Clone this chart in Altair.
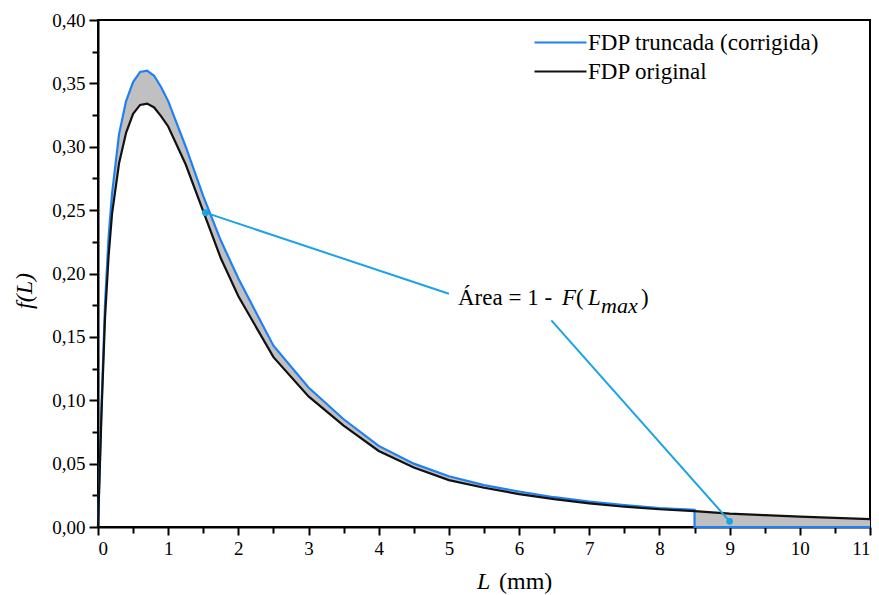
import altair as alt
import pandas as pd

# ---- data ----
x_vals = [0, 0.05, 0.1, 0.15, 0.2, 0.3, 0.4, 0.5, 0.6, 0.7, 0.8, 0.9, 1.0, 1.25, 1.5, 1.75,
          2.0, 2.5, 3.0, 3.5, 4.0, 4.5, 5.0, 5.5, 6.0, 6.5, 7.0, 7.5, 8.0, 8.5,
          9.0, 9.5, 10.0, 10.5, 11.0]
original = [0, 0.090, 0.165, 0.213, 0.247, 0.287, 0.311, 0.326, 0.333, 0.334, 0.331, 0.324,
            0.316, 0.286, 0.249, 0.212, 0.182, 0.134, 0.103, 0.080, 0.060, 0.047, 0.037,
            0.031, 0.026, 0.022, 0.0187, 0.016, 0.014, 0.0126,
            0.0105, 0.0093, 0.0082, 0.0072, 0.0062]
truncated = [0, 0.095, 0.176, 0.228, 0.263, 0.310, 0.336, 0.351, 0.359, 0.360, 0.356, 0.347,
             0.336, 0.300, 0.261, 0.226, 0.196, 0.143, 0.110, 0.085, 0.064, 0.050, 0.040,
             0.033, 0.028, 0.0235, 0.020, 0.0172, 0.015, 0.0135]
l_max = 8.5
tail_x = [8.5, 11.0]
tail_y = [0, 0]

name_trunc = "FDP truncada (corrigida)"
name_orig = "FDP original"

# annotation (data units)
ann_x = [1.53, 9.0]
ann_y = [0.248, 0.0045]
ann_x2 = [5.0, 6.46]
ann_y2 = [0.184, 0.163]

x_ticks = list(range(0, 12))
x_minor = [i + 0.5 for i in range(0, 11)]
y_ticks = [round(0.05 * i, 2) for i in range(0, 9)]
y_minor = [round(0.025 + 0.05 * i, 3) for i in range(0, 8)]

# ---- tables ----
n_t = len(truncated)
rows = []
for i, (xv, yv) in enumerate(zip(x_vals[:n_t] + tail_x, truncated + tail_y)):
    rows.append({"series": name_trunc, "x": xv, "y": yv, "o": i})
for i, (xv, yv) in enumerate(zip(x_vals, original)):
    rows.append({"series": name_orig, "x": xv, "y": yv, "o": i})
lines_df = pd.DataFrame(rows)

band_df = pd.DataFrame({"x": x_vals[:n_t], "top": truncated, "bot": original[:n_t]})
tail_df = pd.DataFrame({"x": [v for v in x_vals if v >= l_max],
                        "y": [o for v, o in zip(x_vals, original) if v >= l_max]})
ann_df = pd.DataFrame({"x": ann_x, "y": ann_y, "x2": ann_x2, "y2": ann_y2})

FONT = "'Liberation Serif', 'Times New Roman', 'DejaVu Serif', serif"
xs = alt.Scale(domain=[0, 11], nice=False)
ys = alt.Scale(domain=[0, 0.4], nice=False)
lab = "replace(format(datum.value, '.2f'), '.', ',')"

x_axis = alt.Axis(values=x_ticks, title=None, tickSize=8, labelPadding=4, format="d",
                  orient="bottom")
y_axis = alt.Axis(values=y_ticks, title=None, tickSize=9, labelPadding=4, labelExpr=lab,
                  orient="left")

band = alt.Chart(band_df).mark_area(color="#c0c0c0", opacity=1).encode(
    x=alt.X("x:Q", scale=xs, axis=x_axis),
    y=alt.Y("top:Q", scale=ys, axis=y_axis),
    y2="bot:Q",
)
tail = alt.Chart(tail_df).mark_area(color="#c0c0c0", opacity=1).encode(
    x=alt.X("x:Q", scale=xs),
    y=alt.Y("y:Q", scale=ys),
    y2=alt.datum(0),
)

lines = alt.Chart(lines_df).mark_line(strokeWidth=2.2).encode(
    x=alt.X("x:Q", scale=xs),
    y=alt.Y("y:Q", scale=ys),
    order="o:Q",
    color=alt.Color("series:N",
                    scale=alt.Scale(domain=[name_trunc, name_orig], range=["#1f80f5", "#111111"]),
                    sort=[name_trunc, name_orig],
                    legend=alt.Legend(title=None, orient="none", legendX=451, legendY=11,
                                      symbolType="M-5.2,0H5.2", symbolSize=100,
                                      symbolStrokeWidth=2.2, labelFont=FONT, labelFontSize=23,
                                      labelColor="black", labelOffset=16, rowPadding=5,
                                      labelLimit=500, padding=0)),
)

ann_lines = alt.Chart(ann_df).mark_rule(color="#1ba3e3", strokeWidth=2).encode(
    x=alt.X("x:Q", scale=xs), y=alt.Y("y:Q", scale=ys), x2="x2:Q", y2="y2:Q")
ann_dots = alt.Chart(ann_df).mark_circle(color="#1ba3e3", size=45, opacity=1).encode(
    x=alt.X("x:Q", scale=xs), y=alt.Y("y:Q", scale=ys))

main = alt.layer(band, tail, lines, ann_lines, ann_dots)

# minor ticks via extra axes
minor_x = alt.Chart(pd.DataFrame({"x": [0.0]})).mark_point(opacity=0).encode(
    x=alt.X("x:Q", scale=xs, axis=alt.Axis(values=x_minor, labels=False, domain=False,
                                           tickSize=6, title=None, orient="bottom")),
)
minor_y = alt.Chart(pd.DataFrame({"y": [0.0]})).mark_point(opacity=0).encode(
    y=alt.Y("y:Q", scale=ys, axis=alt.Axis(values=y_minor, labels=False, domain=False,
                                           tickSize=6, title=None, orient="left")),
)

# text pieces (pixel positions relative to plot origin)
txt_rows = [
    {"t": "Área = 1 -", "px": 360, "py": 285, "st": "normal", "fs": 23},
    {"t": "F", "px": 464, "py": 285, "st": "italic", "fs": 23},
    {"t": "(", "px": 478, "py": 285, "st": "normal", "fs": 23},
    {"t": "L", "px": 490, "py": 285, "st": "italic", "fs": 23},
    {"t": "max", "px": 503, "py": 293, "st": "italic", "fs": 22},
    {"t": ")", "px": 543, "py": 285, "st": "normal", "fs": 23},
    {"t": "L", "px": 379, "py": 569, "st": "italic", "fs": 24},
    {"t": "(mm)", "px": 401, "py": 569, "st": "normal", "fs": 24},
]
texts = []
for r in txt_rows:
    texts.append(alt.Chart(pd.DataFrame({"t": [r["t"]]})).mark_text(
        font=FONT, fontSize=r["fs"], fontStyle=r["st"], align="left", baseline="alphabetic",
        color="black").encode(x=alt.value(r["px"]), y=alt.value(r["py"]), text="t:N"))

ytitle = alt.Chart(pd.DataFrame({"t": ["f(L)"]})).mark_text(
    font=FONT, fontSize=24, fontStyle="italic", angle=270, align="center",
    baseline="middle", color="black").encode(x=alt.value(-73), y=alt.value(271), text="t:N")

chart = alt.layer(main, minor_x, minor_y, ytitle, *texts).resolve_axis(
    x="independent", y="independent"
).properties(
    width=772, height=507,
    autosize=alt.AutoSizeParams(type="none"),
    padding={"left": 98, "top": 20, "right": 9, "bottom": 68},
    background="white",
).configure_view(stroke="black", strokeWidth=2).configure_axis(
    labelFont=FONT, labelFontSize=19, labelColor="black", tickColor="black", domainColor="black",
    domainWidth=2, tickWidth=2, grid=False,
)

chart.save("out.html", embed_options={"renderer": "svg", "actions": False})
